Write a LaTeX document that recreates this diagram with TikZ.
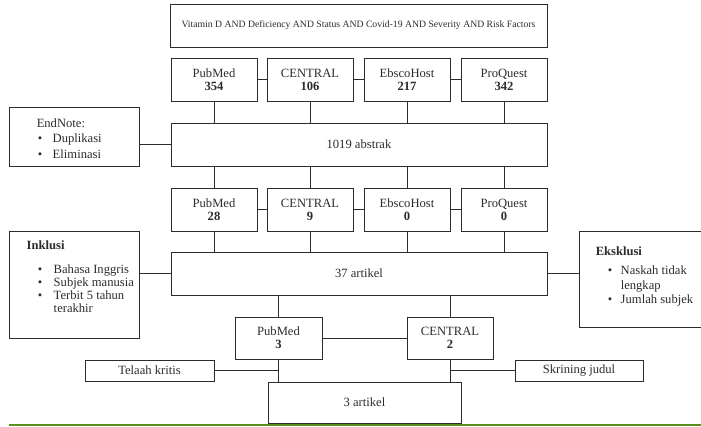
\documentclass[tikz,border=0pt]{standalone}
\usepackage{fontspec}
\setmainfont{Liberation Serif}
\usepackage{xcolor}
\usepackage{tikz}
\usetikzlibrary{positioning}
\definecolor{ink}{HTML}{2B2B2B}
\definecolor{rule}{HTML}{5A8E1C}
\newcommand{\blt}[1]{\makebox[#1][l]{\textbullet}}

\begin{document}
\begin{tikzpicture}[x=1pt,y=-1pt,
  font=\fontsize{12.6}{13}\selectfont,
  text=ink,
  box/.style={draw=ink,line width=0.9pt,align=center,minimum height=43pt,inner sep=2pt},
  dbox/.style={box,minimum width=86pt},
  wbox/.style={box,minimum width=376pt},
  sbox/.style={box,minimum height=21pt},
  side/.style={anchor=north west,inner sep=0pt,align=left,text=ink},
  ln/.style={draw=ink,line width=0.9pt}
]
\useasboundingbox (0,0) rectangle (701,426);
\clip (0,0) rectangle (701,426);

% search
\node[box,minimum width=377pt,font=\fontsize{9.7}{11}\selectfont] (query) at (358.5,25.5)
  {Vitamin D AND Deficiency AND Status AND Covid-19 AND Severity AND Risk Factors};
\node[dbox] (pub1) at (214,79.5) {PubMed\\\textbf{354}};
\node[dbox] (cen1) at (310,79.5) {CENTRAL\\\textbf{106}};
\node[dbox] (ebs1) at (407,79.5) {EbscoHost\\\textbf{217}};
\node[dbox] (pro1) at (504,79.5) {ProQuest\\\textbf{342}};
\node[wbox] (abstrak) at (359,144.5) {1019 abstrak};
\node[box,minimum width=130pt,minimum height=59pt,
  label={[side,xshift=28pt,yshift=-12pt]north west:{EndNote:\\[2.5pt]
  \hspace*{1pt}\blt{15pt}Duplikasi\\[2.5pt]
  \hspace*{1pt}\blt{15pt}Eliminasi}}] (endnote) at (74,136.5) {};

\draw[ln] (pub1) -- (cen1);
\draw[ln] (cen1) -- (ebs1);
\draw[ln] (ebs1) -- (pro1);
\foreach \db in {pub1,cen1,ebs1,pro1}
  \draw[ln] (\db.south) -- (\db.south |- abstrak.north);
\draw[ln] (endnote.east |- abstrak.west) -- (abstrak.west);

% screening
\node[dbox] (pub2) at (214,209.5) {PubMed\\\textbf{28}};
\node[dbox] (cen2) at (310,209.5) {CENTRAL\\\textbf{9}};
\node[dbox] (ebs2) at (407,209.5) {EbscoHost\\\textbf{0}};
\node[dbox] (pro2) at (504,209.5) {ProQuest\\\textbf{0}};
\node[wbox] (artikel) at (359,273.5) {37 artikel};
\node[box,minimum width=130pt,minimum height=107pt,
  label={[side,xshift=18pt,yshift=-10pt]north west:{\textbf{Inklusi}\\[11pt]
  \hspace*{11pt}\blt{16pt}Bahasa Inggris\\
  \hspace*{11pt}\blt{16pt}Subjek manusia\\
  \hspace*{11pt}\blt{16pt}Terbit 5 tahun\\
  \hspace*{27pt}terakhir}}] (inklusi) at (74,284.5) {};
\node[box,minimum width=136pt,minimum height=96pt,
  label={[side,xshift=17pt,yshift=-16pt]north west:{\textbf{Eksklusi}\\[6pt]
  \hspace*{12pt}\blt{13pt}Naskah tidak\\[2.5pt]
  \hspace*{25pt}lengkap\\[1pt]
  \hspace*{12pt}\blt{13pt}Jumlah subjek}}] (eksklusi) at (647,279) {};

\foreach \a/\b in {abstrak/pub2,abstrak/cen2,abstrak/ebs2,abstrak/pro2}
  \draw[ln] (\a.south -| \b.north) -- (\b.north);
\draw[ln] (pub2) -- (cen2);
\draw[ln] (cen2) -- (ebs2);
\draw[ln] (ebs2) -- (pro2);
\foreach \db in {pub2,cen2,ebs2,pro2}
  \draw[ln] (\db.south) -- (\db.south |- artikel.north);
\draw[ln] (inklusi.east |- artikel.west) -- (artikel.west);
\draw[ln] (artikel.east) -- (artikel.east -| eksklusi.west);

% result
\node[box,minimum width=87pt,minimum height=42pt] (pub3) at (278.5,338) {PubMed\\\textbf{3}};
\node[box,minimum width=86pt,minimum height=42pt] (cen3) at (450,338) {CENTRAL\\\textbf{2}};
\node[sbox,minimum width=129pt] (telaah) at (149.5,370.5) {Telaah kritis};
\node[sbox,minimum width=128pt] (skrining) at (579,370.5) {Skrining judul};
\node[box,minimum width=193pt,minimum height=41pt] (final) at (364.5,402.5) {3 artikel};

\draw[ln] (artikel.south -| pub3.north) -- (pub3.north);
\draw[ln] (artikel.south -| cen3.north) -- (cen3.north);
\draw[ln] (pub3) -- (cen3);
\draw[ln] (pub3.south) -- (pub3.south |- final.north);
\draw[ln] (cen3.south) -- (cen3.south |- final.north);
\draw[ln] (telaah.east) -- (telaah.east -| pub3.south);
\draw[ln] (skrining.west) -- (skrining.west -| cen3.south);

\draw[rule,line width=2pt] (9,425) -- (701,425);
\end{tikzpicture}
\end{document}
